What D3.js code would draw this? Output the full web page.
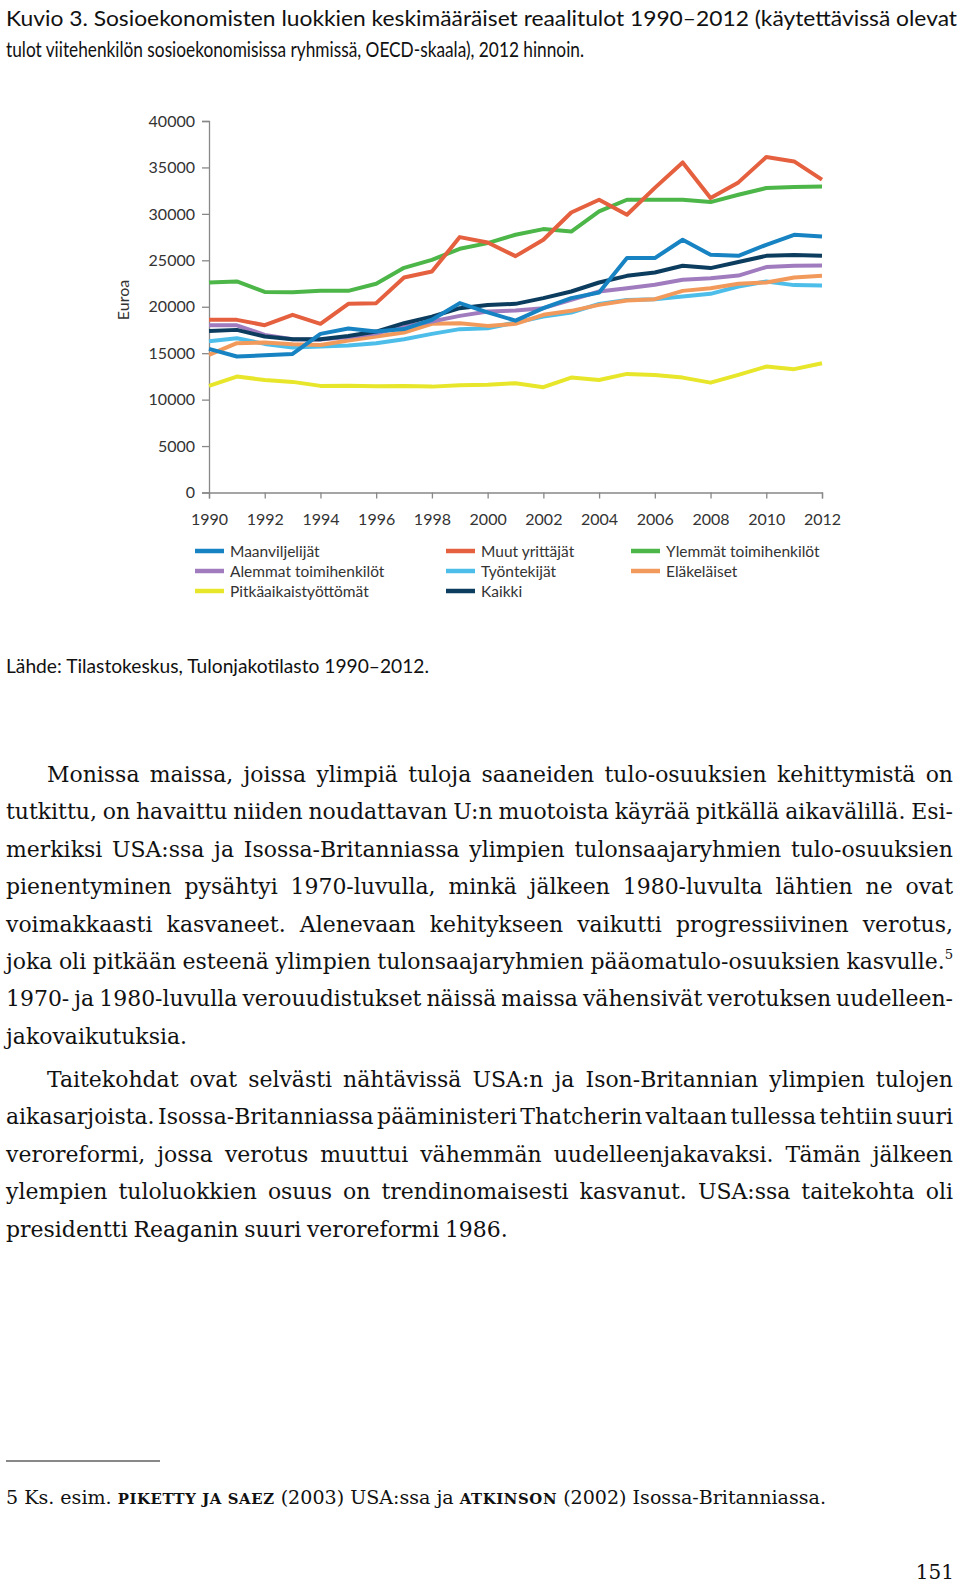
<!DOCTYPE html>
<html><head><meta charset="utf-8">
<script src="https://cdn.jsdelivr.net/npm/d3@7"></script>
<style>body{margin:0;background:#fff} svg{display:block}</style>
</head><body>
<svg id="c" width="960" height="1583"></svg>
<script>
// ---------- DATA ----------
const years = [1990,1991,1992,1993,1994,1995,1996,1997,1998,1999,2000,2001,2002,2003,2004,2005,2006,2007,2008,2009,2010,2011,2012];
const xTickYears = [1990,1992,1994,1996,1998,2000,2002,2004,2006,2008,2010,2012];
const yTickValues = [0,5000,10000,15000,20000,25000,30000,35000,40000];

const maanviljelijat = [15460,14640,14780,14920,17080,17650,17330,17600,18600,20390,19400,18500,19850,20930,21530,25240,25240,27210,25590,25480,26670,27750,27570];
const muutYrittajat = [18590,18590,18010,19130,18160,20310,20390,23150,23790,27500,26920,25450,27210,30150,31520,29900,32800,35540,31700,33390,36120,35650,33680];
const ylemmat = [22610,22720,21600,21570,21710,21710,22470,24190,25050,26240,26850,27750,28360,28100,30260,31520,31520,31520,31270,32060,32780,32890,32960];
const alemmat = [18010,18000,16970,16510,16460,16750,17150,17870,18410,19020,19480,19590,19850,20740,21640,22000,22360,22900,23080,23360,24270,24410,24440];
const tyontekijat = [16290,16610,16000,15600,15710,15820,16080,16510,17080,17590,17690,18300,18940,19380,20310,20740,20820,21100,21390,22180,22720,22330,22290];
const elakelaiset = [14820,16080,16140,15970,15890,16360,16790,17220,18160,18230,17940,18160,19130,19560,20200,20670,20820,21710,22000,22470,22610,23150,23330];
const pitkaaikaistyottomat = [11480,12480,12120,11910,11480,11500,11450,11480,11400,11550,11600,11770,11340,12370,12120,12770,12660,12370,11830,12660,13560,13280,13920];
const kaikki = [17400,17510,16790,16510,16510,16860,17330,18230,18940,19850,20200,20310,20930,21640,22610,23330,23690,24410,24160,24810,25480,25560,25480];

const seriesNames = ["Maanviljelijät","Muut yrittäjät","Ylemmät toimihenkilöt","Alemmat toimihenkilöt","Työntekijät","Eläkeläiset","Pitkäaikaistyöttömät","Kaikki"];
const seriesValues = [maanviljelijat,muutYrittajat,ylemmat,alemmat,tyontekijat,elakelaiset,pitkaaikaistyottomat,kaikki];
const seriesColors = ["#1783c2","#e5603f","#4db649","#a07cbf","#4dbde9","#f19a5c","#e7e62a","#0c3d5f"];
const drawOrder = [6,4,5,3,7,0,2,1];

const titleLines = ["Kuvio 3. Sosioekonomisten luokkien keskimääräiset reaalitulot 1990–2012 (käytettävissä olevat",
                    "tulot viitehenkilön sosioekonomisissa ryhmissä, OECD-skaala), 2012 hinnoin."];
const sourceText = "Lähde: Tilastokeskus, Tulonjakotilasto 1990–2012.";
const yAxisLabel = "Euroa";

const paragraphs = [
 ["Monissa maissa, joissa ylimpiä tuloja saaneiden tulo-osuuksien kehittymistä on",
  "tutkittu, on havaittu niiden noudattavan U:n muotoista käyrää pitkällä aikavälillä. Esi-",
  "merkiksi USA:ssa ja Isossa-Britanniassa ylimpien tulonsaajaryhmien tulo-osuuksien",
  "pienentyminen pysähtyi 1970-luvulla, minkä jälkeen 1980-luvulta lähtien ne ovat",
  "voimakkaasti kasvaneet. Alenevaan kehitykseen vaikutti progressiivinen verotus,",
  "joka oli pitkään esteenä ylimpien tulonsaajaryhmien pääomatulo-osuuksien kasvulle.^5",
  "1970- ja 1980-luvulla verouudistukset näissä maissa vähensivät verotuksen uudelleen-",
  "jakovaikutuksia."],
 ["Taitekohdat ovat selvästi nähtävissä USA:n ja Ison-Britannian ylimpien tulojen",
  "aikasarjoista. Isossa-Britanniassa pääministeri Thatcherin valtaan tullessa tehtiin suuri",
  "veroreformi, jossa verotus muuttui vähemmän uudelleenjakavaksi. Tämän jälkeen",
  "ylempien tuloluokkien osuus on trendinomaisesti kasvanut. USA:ssa taitekohta oli",
  "presidentti Reaganin suuri veroreformi 1986."]
];
const footnoteParts = [["5 Ks. esim. ",false],["PIKETTY JA SAEZ",true],[" (2003) USA:ssa ja ",false],["ATKINSON",true],[" (2002) Isossa-Britanniassa.",false]];
const pageNumber = "151";

// ---------- DRAW ----------
const svg = d3.select("#c");
const SANS = "Lato, 'Open Sans', sans-serif";
const SERIF = "'DejaVu Serif', 'Liberation Serif', serif";

function measureText(str, fs, family) {
  const t = svg.append("text").attr("font-family", family).attr("font-size", fs).text(str);
  const w = t.node().getComputedTextLength(); t.remove(); return w;
}

// caption (title) and source
svg.append("text").attr("x", 6).attr("y", 26).attr("font-family", SANS).attr("font-size", 21)
  .attr("fill", "#111").attr("textLength", 951).attr("lengthAdjust", "spacingAndGlyphs").text(titleLines[0]);
svg.append("text").attr("x", 6).attr("y", 57).attr("font-family", SANS).attr("font-size", 21)
  .attr("fill", "#111").attr("textLength", 578).attr("lengthAdjust", "spacingAndGlyphs").text(titleLines[1]);
svg.append("text").attr("x", 6).attr("y", 673).attr("font-family", SANS).attr("font-size", 20)
  .attr("fill", "#111").attr("textLength", 423).attr("lengthAdjust", "spacingAndGlyphs").text(sourceText);

const x = d3.scaleLinear().domain([1990, 2012]).range([209, 822]);
const y = d3.scaleLinear().domain([0, 40000]).range([492.5, 121]);

const gy = svg.append("g").attr("transform", "translate(209,0)")
  .call(d3.axisLeft(y).tickValues(yTickValues).tickSize(7).tickPadding(7).tickFormat(d3.format("d")));
const gx = svg.append("g").attr("transform", "translate(0,492.5)")
  .call(d3.axisBottom(x).tickValues(xTickYears).tickSize(6).tickPadding(15).tickFormat(d3.format("d")));
[gx, gy].forEach(g => {
  g.select(".domain").attr("stroke", "#888").attr("stroke-width", 1.3);
  g.selectAll(".tick line").attr("stroke", "#888").attr("stroke-width", 1.3);
  g.selectAll(".tick text").attr("font-family", SANS).attr("font-size", 16).attr("fill", "#333");
});

svg.append("text").attr("transform", "translate(129,300) rotate(-90)")
  .attr("text-anchor", "middle").attr("font-family", SANS).attr("font-size", 16).attr("fill", "#333").text(yAxisLabel);

const line = d3.line().x((d, i) => x(years[i])).y(d => y(d));
drawOrder.forEach(k => {
  svg.append("path").datum(seriesValues[k]).attr("d", line)
    .attr("fill", "none").attr("stroke", seriesColors[k]).attr("stroke-width", 4)
    .attr("stroke-linejoin", "round").attr("stroke-linecap", "butt");
});

// legend
const legCols = [195, 446, 631];
const legRows = [551, 571, 591];
seriesNames.forEach((n, i) => {
  const cx = legCols[i % 3], cy = legRows[Math.floor(i / 3)];
  svg.append("line").attr("x1", cx).attr("x2", cx + 29).attr("y1", cy).attr("y2", cy)
    .attr("stroke", seriesColors[i]).attr("stroke-width", 4.5);
  svg.append("text").attr("x", cx + 35).attr("y", cy + 5.5).attr("font-family", SANS)
    .attr("font-size", 15.5).attr("fill", "#333").text(n);
});

// body text
const body = svg.append("g").attr("fill", "#111");
function measure(str, f) { return measureText(str, f, SERIF); }
const RIGHT = 953, LEFT = 6, INDENT = 47;
let fs = 20 * 507 / measure("presidentti Reaganin suuri veroreformi 1986.", 20);
paragraphs.forEach(p => p.forEach((l, i) => {
  if (i === p.length - 1) return;
  const avail = RIGHT - (i === 0 ? INDENT : LEFT);
  const words = l.replace("^5", "").split(" ");
  const w = measure(words.join(""), fs);
  const minSp = fs * 0.15 * (words.length - 1);
  if (w + minSp > avail) fs = fs * avail / (w + minSp);
}));

function drawJustified(str, x0, x1, yb, justify) {
  const words = str.split(" ");
  const nodes = words.map(w => {
    const t = body.append("text").attr("y", yb).attr("font-family", SERIF).attr("font-size", fs);
    if (w.includes("^")) {
      const [a, b] = w.split("^");
      t.append("tspan").text(a);
      t.append("tspan").attr("font-size", fs * 0.6).attr("dy", -fs * 0.45).text(b);
    } else t.text(w);
    return t;
  });
  const widths = nodes.map(n => n.node().getComputedTextLength());
  const total = d3.sum(widths);
  let sp = fs * 0.26;
  if (justify && words.length > 1) sp = (x1 - x0 - total) / (words.length - 1);
  let cx = x0;
  nodes.forEach((n, i) => { n.attr("x", cx); cx += widths[i] + sp; });
}
const lineY = [[782, 819.4, 856.8, 894.2, 931.6, 969, 1006.4, 1043.8], [1087, 1124.4, 1161.8, 1199.2, 1236.6]];
paragraphs.forEach((p, pi) => p.forEach((l, i) => {
  drawJustified(l, i === 0 ? INDENT : LEFT, RIGHT, lineY[pi][i], i !== p.length - 1);
}));

// footnote
svg.append("line").attr("x1", 6).attr("x2", 160).attr("y1", 1461).attr("y2", 1461).attr("stroke", "#111").attr("stroke-width", 1);
const fnFs = 19;
const fn = svg.append("text").attr("x", 6).attr("y", 1504).attr("font-family", SERIF).attr("font-size", fnFs).attr("fill", "#111");
footnoteParts.forEach(([t, sc]) => {
  const ts = fn.append("tspan").text(t);
  if (sc) ts.attr("font-weight", "bold").attr("font-size", fnFs * 0.78).attr("letter-spacing", 0.6);
});
fn.attr("textLength", 820).attr("lengthAdjust", "spacingAndGlyphs");

svg.append("text").attr("x", 954).attr("y", 1579).attr("text-anchor", "end").attr("font-family", SERIF)
  .attr("font-size", 20).attr("fill", "#111").text(pageNumber);
</script>
</body></html>
